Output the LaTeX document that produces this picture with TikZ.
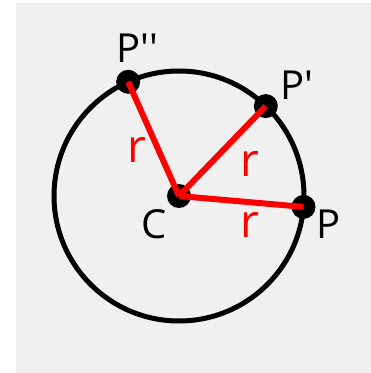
\documentclass[tikz,border=0pt]{standalone}
\usepackage{fontspec}
\newfontfamily\labelfont{Open Sans}
\definecolor{bggray}{RGB}{240, 240, 240}
\definecolor{radred}{RGB}{255, 0, 0}
\usetikzlibrary{positioning}

\begin{document}
\begin{tikzpicture}[
  x=1pt, y=1pt,
  dot/.style={circle, fill=black, inner sep=0pt, minimum size=24pt},
  radius line/.style={draw=radred, line width=6pt},
  ptlabel/.style={inner sep=0pt, anchor=base, font=\labelfont\fontsize{40}{48}\selectfont},
  rlabel/.style={inner sep=0pt, anchor=base, text=radred, font=\labelfont\fontsize{46}{55}\selectfont}
]
  \useasboundingbox (0,0) rectangle (371,373);
  \fill[bggray] (16,0) rectangle (371,370);
  \coordinate (mid) at (179,177);
  \draw[line width=5pt] (mid) circle[radius=125];
  \node[dot] (C) at (mid) {};
  \node[dot] (P) at ([shift={(-5:125)}]mid) {};
  \node[dot] (P1) at ([shift={(46:125)}]mid) {};
  \node[dot] (P2) at ([shift={(114:125)}]mid) {};
  \draw[radius line] (C.center) -- (P.center);
  \draw[radius line] (C.center) -- (P1.center);
  \draw[radius line] (C.center) -- (P2.center);
  \node[ptlabel] (lC) at (154,134) {C};
  \node[ptlabel, anchor=base west] (lP) at (316,134) {P};
  \node[ptlabel, anchor=base west] (lP1) at (280,273) {P\textquotesingle};
  \node[ptlabel] (lP2) at (137,310) {P\textquotesingle\textquotesingle};
  \node[rlabel] (r2) at (137,210) {r};
  \node[rlabel] (r1) at (250,196) {r};
  \node[rlabel] (r0) at (250,135) {r};
\end{tikzpicture}
\end{document}
